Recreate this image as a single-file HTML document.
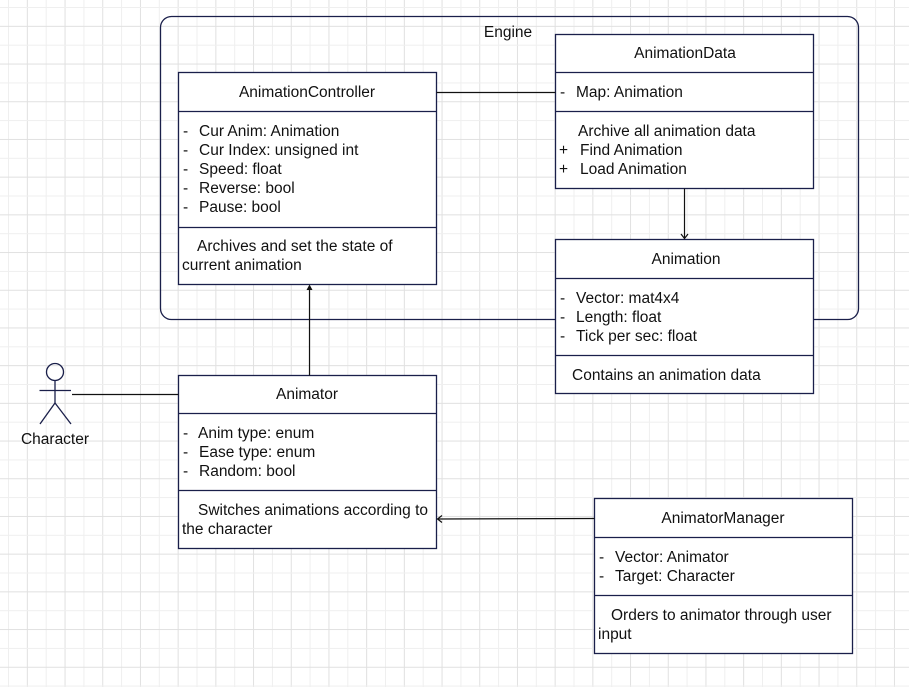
<!DOCTYPE html>
<html><head><meta charset="utf-8"><style>
html,body{margin:0;padding:0;background:#fff}
svg{display:block}
text{font-family:"Liberation Sans",Arial,sans-serif;font-size:15.5px;fill:#111}
</style></head><body>
<svg width="909" height="687" viewBox="0 0 909 687" xmlns="http://www.w3.org/2000/svg">
<defs>
<pattern id="g" x="8" y="7" width="37.7" height="37.7" patternUnits="userSpaceOnUse">
<line x1="0.5" y1="0" x2="0.5" y2="37.7" stroke="#efefef" stroke-width="1"/>
<line x1="19.35" y1="0" x2="19.35" y2="37.7" stroke="#e0e0e0" stroke-width="1"/>
<line x1="0" y1="0.5" x2="37.7" y2="0.5" stroke="#efefef" stroke-width="1"/>
<line x1="0" y1="19.35" x2="37.7" y2="19.35" stroke="#e0e0e0" stroke-width="1"/>
</pattern>
</defs>
<rect width="909" height="687" fill="#fff"/>
<rect width="909" height="687" fill="url(#g)"/>

<rect x="160.5" y="16.5" width="698" height="303" rx="11" fill="none" stroke="#1a1f4a" stroke-width="1.3"/>
<text x="508" y="37" text-anchor="middle">Engine</text>

<g stroke="#1a1f4a" stroke-width="1.3" fill="#fff">
<rect x="178.5" y="72.5" width="258" height="212"/>
<line x1="178.5" y1="111.5" x2="436.5" y2="111.5"/>
<line x1="178.5" y1="227.5" x2="436.5" y2="227.5"/>
<rect x="555.5" y="34.5" width="258" height="154"/>
<line x1="555.5" y1="72.5" x2="813.5" y2="72.5"/>
<line x1="555.5" y1="111.5" x2="813.5" y2="111.5"/>
<rect x="555.5" y="239.5" width="258" height="154"/>
<line x1="555.5" y1="278.5" x2="813.5" y2="278.5"/>
<line x1="555.5" y1="355.5" x2="813.5" y2="355.5"/>
<rect x="178.5" y="375.5" width="258" height="173"/>
<line x1="178.5" y1="413.5" x2="436.5" y2="413.5"/>
<line x1="178.5" y1="490.5" x2="436.5" y2="490.5"/>
<rect x="594.5" y="498.5" width="258" height="155"/>
<line x1="594.5" y1="537.5" x2="852.5" y2="537.5"/>
<line x1="594.5" y1="595.5" x2="852.5" y2="595.5"/>
</g>

<g stroke="#111" stroke-width="1.2" fill="none">
<line x1="436.5" y1="92.5" x2="555.5" y2="92.5"/>
<line x1="684.5" y1="188.5" x2="684.5" y2="238"/>
<polyline points="681,234 684.5,238.5 688,234"/>
<line x1="309.5" y1="375.5" x2="309.5" y2="287"/>
<line x1="72" y1="394.5" x2="178.5" y2="394.5"/>
<line x1="594.5" y1="518.5" x2="438" y2="519"/>
<polyline points="442,515.5 437.5,519 442,522.5"/>
</g>
<polygon points="306.5,290 309.5,284.5 312.5,290" fill="#111"/>

<g stroke="#1a1f4a" stroke-width="1.3" fill="none">
<circle cx="55" cy="372" r="8.5"/>
<line x1="55" y1="380.5" x2="55" y2="403"/>
<line x1="39.5" y1="390.5" x2="71" y2="390.5"/>
<line x1="55" y1="403" x2="40" y2="424"/>
<line x1="55" y1="403" x2="71" y2="424"/>
</g>
<text x="55" y="444" text-anchor="middle">Character</text>

<text x="307" y="97" text-anchor="middle">AnimationController</text>
<text x="183" y="136">-</text><text x="199" y="136">Cur Anim: Animation</text>
<text x="183" y="155">-</text><text x="199" y="155">Cur Index: unsigned int</text>
<text x="183" y="174">-</text><text x="199" y="174">Speed: float</text>
<text x="183" y="193">-</text><text x="199" y="193">Reverse: bool</text>
<text x="183" y="212">-</text><text x="199" y="212">Pause: bool</text>
<text x="197" y="251">Archives and set the state of</text>
<text x="182" y="270">current animation</text>

<text x="685" y="58" text-anchor="middle">AnimationData</text>
<text x="560" y="97">-</text><text x="576" y="97">Map: Animation</text>
<text x="578" y="136">Archive all animation data</text>
<text x="559" y="155">+</text><text x="580" y="155">Find Animation</text>
<text x="559" y="174">+</text><text x="580" y="174">Load Animation</text>

<text x="686" y="264" text-anchor="middle">Animation</text>
<text x="560" y="303">-</text><text x="576" y="303">Vector: mat4x4</text>
<text x="560" y="322">-</text><text x="576" y="322">Length: float</text>
<text x="560" y="341">-</text><text x="576" y="341">Tick per sec: float</text>
<text x="572" y="380">Contains an animation data</text>

<text x="307" y="399" text-anchor="middle">Animator</text>
<text x="183" y="438">-</text><text x="198" y="438">Anim type: enum</text>
<text x="183" y="457">-</text><text x="199" y="457">Ease type: enum</text>
<text x="183" y="476">-</text><text x="199" y="476">Random: bool</text>
<text x="198" y="515">Switches animations according to</text>
<text x="182" y="534">the character</text>

<text x="723" y="523" text-anchor="middle">AnimatorManager</text>
<text x="599" y="562">-</text><text x="615" y="562">Vector: Animator</text>
<text x="599" y="581">-</text><text x="615" y="581">Target: Character</text>
<text x="611" y="620">Orders to animator through user</text>
<text x="598" y="639">input</text>
</svg>
</body></html>
